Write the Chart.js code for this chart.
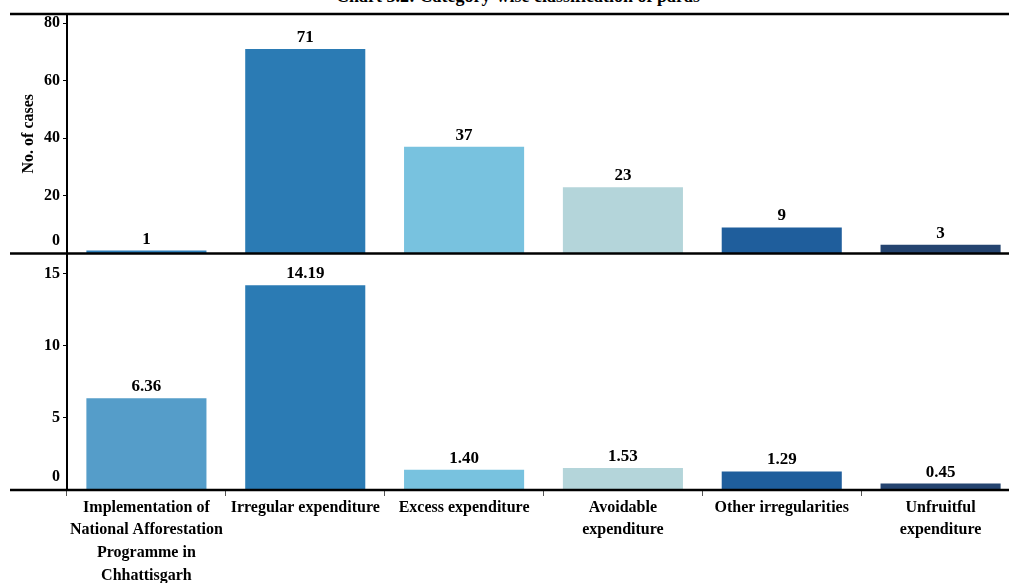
<!DOCTYPE html>
<html lang="en">
<head>
    <meta charset="UTF-8">
    <title>Category-wise classification of paras</title>
    <style>
        body {
            margin: 0;
            width: 1009px;
            height: 583px;
            overflow: hidden;
            background: #fff;
            font-family: "Liberation Serif", serif;
        }
        #title {
            position: absolute;
            top: -13px;
            left: 0;
            width: 1036px;
            text-align: center;
            font-weight: bold;
            font-size: 18px;
            line-height: 18px;
        }
        #topBox {
            position: absolute;
            left: 0;
            top: 0;
            width: 1020px;
            height: 266px;
        }
        #bottomBox {
            position: absolute;
            left: 0;
            top: 240px;
            width: 1020px;
            height: 343px;
        }
    </style>
    <script src="https://cdn.jsdelivr.net/npm/chart.js"></script>
</head>
<body>

    <div id="title">Chart 3.2: Category-wise classification of paras</div>
    <div id="topBox"><canvas id="topChart"></canvas></div>
    <div id="bottomBox"><canvas id="bottomChart"></canvas></div>

    <script>
        const categories = [
            ['Implementation of', 'National Afforestation', 'Programme in', 'Chhattisgarh'],
            ['Irregular expenditure'],
            ['Excess expenditure'],
            ['Avoidable', 'expenditure'],
            ['Other irregularities'],
            ['Unfruitful', 'expenditure']
        ];
        const cases = [1, 71, 37, 23, 9, 3];
        const amounts = [6.36, 14.19, 1.40, 1.53, 1.29, 0.45];
        const casesTicks = [0, 20, 40, 60, 80];
        const amountTicks = [0, 5, 10, 15];

        const topColors = ['#2e7fba', '#2b7bb4', '#78c2df', '#b4d5da', '#1f5e9c', '#254470'];
        const bottomColors = ['#559dc9', '#2b7bb4', '#78c2df', '#b4d5da', '#1f5e9c', '#254470'];

        const boldFont = (size) => ({ family: '"Liberation Serif", "Times New Roman", serif', weight: 'bold', size: size });

        // value labels above bars, the "0" tick label sitting above the rule,
        // and the thick horizontal rules that run past the y axis
        const extras = {
            id: 'extras',
            afterDatasetsDraw(chart, args, opts) {
                const ctx = chart.ctx;
                const meta = chart.getDatasetMeta(0);
                const data = chart.data.datasets[0].data;
                ctx.save();
                ctx.fillStyle = '#000';
                ctx.font = 'bold 17px "Liberation Serif", serif';
                ctx.textAlign = 'center';
                ctx.textBaseline = 'alphabetic';
                meta.data.forEach((bar, i) => {
                    ctx.fillText(opts.format(data[i]), bar.x, bar.y - 7);
                });

                const y = chart.scales.y;
                ctx.font = 'bold 16px "Liberation Serif", serif';
                ctx.textAlign = 'right';
                ctx.textBaseline = 'middle';
                ctx.fillText('0', y.right - 7, y.getPixelForValue(0) - 13);

                const area = chart.chartArea;
                ctx.strokeStyle = '#000';
                ctx.lineWidth = 2.5;
                const lines = opts.topRule ? [area.top, area.bottom] : [area.bottom];
                lines.forEach(ly => {
                    ctx.beginPath();
                    ctx.moveTo(area.left - 57, ly);
                    ctx.lineTo(chart.width, ly);
                    ctx.stroke();
                });
                ctx.restore();
            }
        };

        function yScale(max, allowed, title) {
            return {
                min: 0,
                max: max,
                afterFit(scale) { scale.width = 67; },
                afterBuildTicks(scale) {
                    scale.ticks = allowed.map(v => ({ value: v }));
                },
                border: { color: '#000', width: 2 },
                grid: {
                    drawOnChartArea: false,
                    drawTicks: true,
                    tickLength: 4,
                    color: (c) => (c.tick && c.tick.value === 0) ? 'rgba(0,0,0,0)' : '#000',
                    lineWidth: 1
                },
                ticks: {
                    color: '#000',
                    font: boldFont(16),
                    padding: 3,
                    callback: (v) => v === 0 ? '' : v
                },
                title: {
                    display: !!title,
                    text: title,
                    color: '#000',
                    font: boldFont(16),
                    padding: { top: 19, bottom: 4 }
                }
            };
        }

        new Chart(document.getElementById('topChart'), {
            type: 'bar',
            data: {
                labels: categories,
                datasets: [{
                    data: cases,
                    backgroundColor: topColors,
                    barPercentage: 0.756,
                    categoryPercentage: 1
                }]
            },
            options: {
                responsive: true,
                maintainAspectRatio: false,
                animation: false,
                layout: { padding: { left: 0, right: 0, top: 14, bottom: 10 } },
                plugins: {
                    legend: { display: false },
                    tooltip: { enabled: false },
                    extras: { format: v => String(v), topRule: true }
                },
                scales: {
                    x: { display: false },
                    y: yScale(83.14, casesTicks, 'No. of cases')
                }
            },
            plugins: [extras]
        });

        new Chart(document.getElementById('bottomChart'), {
            type: 'bar',
            data: {
                labels: categories,
                datasets: [{
                    data: amounts,
                    backgroundColor: bottomColors,
                    barPercentage: 0.756,
                    categoryPercentage: 1
                }]
            },
            options: {
                responsive: true,
                maintainAspectRatio: false,
                animation: false,
                layout: { padding: { left: 0, right: 0, top: 12, bottom: 0 } },
                plugins: {
                    legend: { display: false },
                    tooltip: { enabled: false },
                    extras: { format: v => v.toFixed(2), topRule: false }
                },
                scales: {
                    x: {
                        afterFit(scale) { scale.height = 93; },
                        border: { display: false },
                        grid: { drawOnChartArea: false, drawTicks: true, tickLength: 6, color: '#555', lineWidth: 1 },
                        ticks: {
                            color: '#000',
                            font: Object.assign(boldFont(16), { lineHeight: 1.42 }),
                            maxRotation: 0,
                            autoSkip: false,
                            padding: 0
                        }
                    },
                    y: yScale(16.45, amountTicks, '')
                }
            },
            plugins: [extras]
        });
    </script>
</body>
</html>
